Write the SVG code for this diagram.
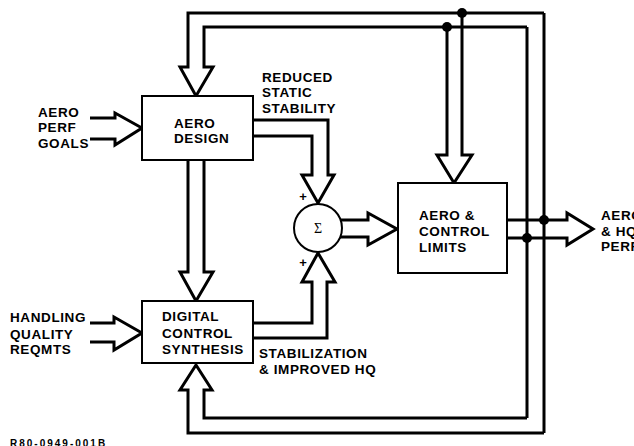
<svg xmlns="http://www.w3.org/2000/svg" width="634" height="446" viewBox="0 0 634 446">
<style>
  .bg { fill: #ffffff; }
  .box { fill: #ffffff; stroke: #000; stroke-width: 2; }
  .ln { fill: none; stroke: #000; stroke-width: 3; stroke-linejoin: miter; }
  .dot { fill: #000; }
  text { font-family: "Liberation Sans", Arial, sans-serif; font-weight: bold; font-size: 13.5px; fill: #000; letter-spacing: 0.6px; }
  .sig { font-family: "Liberation Serif", "Times New Roman", serif; font-weight: normal; font-size: 14px; letter-spacing: 0; }
  .plus { font-size: 13px; letter-spacing: 0; }
  .ref { font-size: 10px; letter-spacing: 2px; }
</style>
<rect class="bg" x="0" y="0" width="634" height="446"/>

<g id="connectors">
  <!-- outer / inner feedback loops, top -->
  <path class="ln" d="M544 13 H188 V67 H180 L196 96 L213 67 H204 V27 H527"/>
  <!-- feedback to aero & control limits -->
  <path class="ln" d="M447 27 V155 H437 L454 183 L472 155 H462 V13"/>
  <!-- right verticals -->
  <path class="ln" d="M544 13 V433"/>
  <path class="ln" d="M527 27 V418"/>
  <!-- bottom loops to digital control synthesis -->
  <path class="ln" d="M527 418 H204 V390 H212 L196 365 L180 390 H188 V433 H544"/>
  <!-- aero design to digital control synthesis -->
  <path class="ln" d="M188 160 V272 H180 L196 301 L213 272 H204 V160"/>
  <!-- inputs -->
  <path class="ln" d="M90 118 H115 V113 L142 128 L115 145 V139 H90"/>
  <path class="ln" d="M90 323 H114 V317 L142 333 L114 350 V342 H90"/>
  <!-- reduced static stability -->
  <path class="ln" d="M253 120 H328 V175 H334 L318 203 L302 175 H312 V136 H253"/>
  <!-- stabilization -->
  <path class="ln" d="M253 323 H312 V282 H302 L318 253 L335 282 H327 V338 H253"/>
  <!-- sum to limits -->
  <path class="ln" d="M340 220 H368 V213 L397 229 L368 245 V237 H340"/>
  <!-- output -->
  <path class="ln" d="M507 220 H567 V213 L593 229 L567 245 V238 H507"/>
  <circle class="dot" cx="462" cy="13" r="5"/>
  <circle class="dot" cx="447" cy="27" r="5"/>
  <circle class="dot" cx="544" cy="220" r="5"/>
  <circle class="dot" cx="527" cy="238" r="5"/>
</g>

<g id="aero-design">
  <rect class="box" x="142" y="96" width="111" height="64"/>
  <text x="174" y="128">AERO</text>
  <text x="174" y="143">DESIGN</text>
</g>

<g id="digital-control">
  <rect class="box" x="142" y="301" width="111" height="62"/>
  <text x="162" y="321">DIGITAL</text>
  <text x="162" y="338">CONTROL</text>
  <text x="162" y="354">SYNTHESIS</text>
</g>

<g id="sum">
  <circle class="box" cx="318" cy="228" r="24"/>
  <text class="sig" x="318" y="233" text-anchor="middle">Σ</text>
  <text class="plus" x="303" y="201" text-anchor="middle">+</text>
  <text class="plus" x="303" y="267" text-anchor="middle">+</text>
</g>

<g id="aero-control-limits">
  <rect class="box" x="398" y="183" width="109" height="90"/>
  <text x="419" y="220">AERO &amp;</text>
  <text x="419" y="236">CONTROL</text>
  <text x="419" y="252">LIMITS</text>
</g>

<g id="labels">
  <text x="38" y="117">AERO</text>
  <text x="38" y="132">PERF</text>
  <text x="38" y="148">GOALS</text>
  <text x="10" y="322">HANDLING</text>
  <text x="10" y="339">QUALITY</text>
  <text x="10" y="354">REQMTS</text>
  <text x="262" y="82">REDUCED</text>
  <text x="262" y="97">STATIC</text>
  <text x="262" y="113">STABILITY</text>
  <text x="259" y="358">STABILIZATION</text>
  <text x="259" y="374">&amp; IMPROVED HQ</text>
  <text x="601" y="220">AERO</text>
  <text x="601" y="236">&amp; HQ</text>
  <text x="601" y="251">PERF</text>
  <text class="ref" x="10" y="447">R80-0949-001B</text>
</g>
</svg>
